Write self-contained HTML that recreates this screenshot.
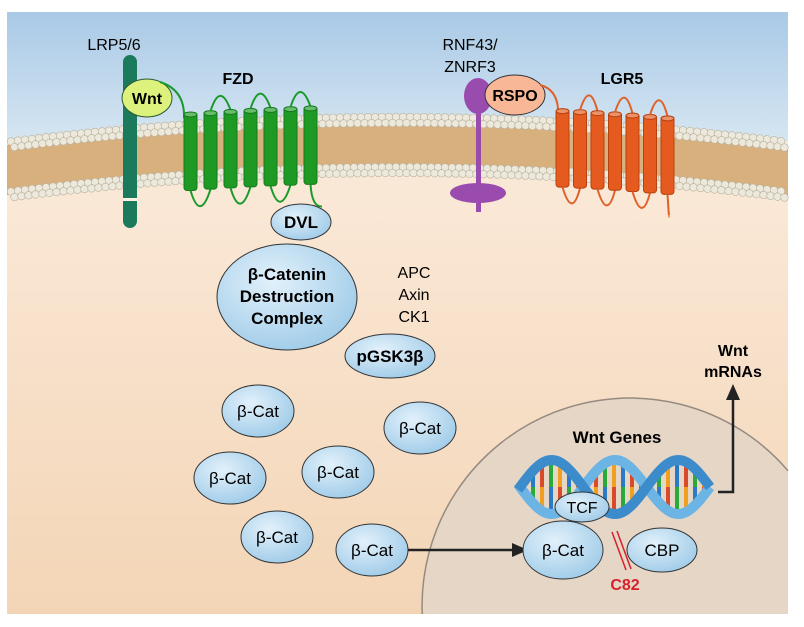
<!DOCTYPE html>
<html><head><meta charset="utf-8"><style>
html,body{margin:0;padding:0;background:#fff;width:804px;height:627px;overflow:hidden;}
svg{display:block;font-family:"Liberation Sans",sans-serif;position:absolute;left:0;top:0;}
</style></head><body>
<svg id="s" width="804" height="627" viewBox="0 0 804 627" xmlns="http://www.w3.org/2000/svg">
<defs>
<linearGradient id="sky" x1="0" y1="0" x2="0" y2="1"><stop offset="0" stop-color="#a9c9e6"/><stop offset="1" stop-color="#d6e6f2"/></linearGradient>
<linearGradient id="cyto" x1="0" y1="0" x2="0" y2="1"><stop offset="0" stop-color="#fdf0e4"/><stop offset="1" stop-color="#f3d5b6"/></linearGradient>
<radialGradient id="bl" cx="0.4" cy="0.35" r="0.7"><stop offset="0" stop-color="#e2f1fb"/><stop offset="1" stop-color="#9fcbe8"/></radialGradient>
</defs>
<rect x="7" y="12" width="781" height="602" fill="url(#cyto)"/>
<path d="M7,12 H788 V142 Q397,92 7,142 Z" fill="url(#sky)"/>
<path d="M7,145 Q397,95 788,145 L788,195 Q397,145 7,195 Z" fill="#d8b07e"/>
<g id="beads"></g>
<path d="M422.2,614 A208,208 0 0,1 788,470.7 L788,614 Z" fill="#e5d6c6"/>
<path d="M422.2,614 A208,208 0 0,1 788,470.7" fill="none" stroke="#968a80" stroke-width="1.5"/>
<rect x="123" y="55" width="14" height="173" rx="7" fill="#1b7a5c"/>
<rect x="123" y="198" width="14" height="3" fill="#fdf0e4"/>
<ellipse cx="147" cy="98" rx="25" ry="19" fill="#dcf27c" stroke="#2a5a30" stroke-width="1"/>
<text x="147" y="104" font-size="16" font-weight="bold" text-anchor="middle">Wnt</text>
<path d="M160,82 Q185,90 184,118" stroke="#1a9a2a" stroke-width="2" fill="none"/>
<g id="fzd" fill="#1e9a24" stroke="#147a1a" stroke-width="1"></g>
<rect x="476" y="100" width="5" height="112" fill="#9a4cae"/>
<ellipse cx="478" cy="96" rx="14" ry="18" fill="#9a4cae"/>
<ellipse cx="478" cy="193" rx="28" ry="10" fill="#9a4cae"/>
<ellipse cx="515" cy="95" rx="30" ry="20" fill="#f8b898" stroke="#333" stroke-width="1"/>
<text x="515" y="101" font-size="16" font-weight="bold" text-anchor="middle">RSPO</text>
<path d="M540,85 Q560,90 558,118" stroke="#e0602a" stroke-width="2" fill="none"/>
<g id="lgr" fill="#e55a1e" stroke="#b8420e" stroke-width="1"></g>
<g font-size="16" text-anchor="middle">
<text x="114" y="50">LRP5/6</text>
<text x="238" y="84" font-weight="bold">FZD</text>
<text x="470" y="50">RNF43/</text>
<text x="470" y="72">ZNRF3</text>
<text x="622" y="84" font-weight="bold">LGR5</text>
</g>
<g stroke="#333" stroke-width="1" fill="url(#bl)">
<ellipse cx="287" cy="297" rx="70" ry="53"/>
<ellipse cx="301" cy="222" rx="30" ry="18"/>
<ellipse cx="390" cy="356" rx="45" ry="22"/>
<ellipse cx="258" cy="411" rx="36" ry="26"/>
<ellipse cx="420" cy="428" rx="36" ry="26"/>
<ellipse cx="230" cy="478" rx="36" ry="26"/>
<ellipse cx="338" cy="472" rx="36" ry="26"/>
<ellipse cx="277" cy="537" rx="36" ry="26"/>
<ellipse cx="372" cy="550" rx="36" ry="26"/>
</g>
<g font-size="17" text-anchor="middle">
<text x="301" y="228" font-weight="bold">DVL</text>
<text x="287" y="280" font-weight="bold">β-Catenin</text>
<text x="287" y="302" font-weight="bold">Destruction</text>
<text x="287" y="324" font-weight="bold">Complex</text>
<text x="390" y="362" font-weight="bold">pGSK3β</text>
<text x="414" y="278" font-size="16">APC</text>
<text x="414" y="300" font-size="16">Axin</text>
<text x="414" y="322" font-size="16">CK1</text>
<text x="258" y="417">β-Cat</text>
<text x="420" y="434">β-Cat</text>
<text x="230" y="484">β-Cat</text>
<text x="338" y="478">β-Cat</text>
<text x="277" y="543">β-Cat</text>
<text x="372" y="556">β-Cat</text>
</g>
<line x1="408" y1="550" x2="516" y2="550" stroke="#222" stroke-width="2.5"/>
<polygon points="528,550 512,543 512,557" fill="#222"/>
<g id="dna"></g>
<path d="M718,492 H733 V395" stroke="#222" stroke-width="2.5" fill="none"/>
<polygon points="733,384 726,400 740,400" fill="#222"/>
<text x="733" y="356" font-size="16" font-weight="bold" text-anchor="middle">Wnt</text>
<text x="733" y="377" font-size="16" font-weight="bold" text-anchor="middle">mRNAs</text>
<text x="617" y="443" font-size="17" font-weight="bold" text-anchor="middle">Wnt Genes</text>
<g stroke="#333" stroke-width="1" fill="url(#bl)">
<ellipse cx="582" cy="507" rx="27" ry="15"/>
<ellipse cx="563" cy="550" rx="40" ry="29"/>
<ellipse cx="662" cy="550" rx="35" ry="22"/>
</g>
<text x="582" y="513" font-size="16" text-anchor="middle">TCF</text>
<text x="563" y="556" font-size="17" text-anchor="middle">β-Cat</text>
<text x="662" y="556" font-size="17" text-anchor="middle">CBP</text>
<line x1="612" y1="532" x2="626" y2="570" stroke="#d8202a" stroke-width="1.5"/>
<line x1="617" y1="531" x2="631" y2="569" stroke="#d8202a" stroke-width="1.5"/>
<text x="625" y="590" font-size="16" font-weight="bold" fill="#d8202a" text-anchor="middle">C82</text>
</svg>
<script>
var NS="http://www.w3.org/2000/svg";
function el(p,t,a){var e=document.createElementNS(NS,t);for(var k in a)e.setAttribute(k,a[k]);p.appendChild(e);return e;}
function topY(x){var t=(x-7)/781;return 142*(1-t)*(1-t)+2*t*(1-t)*92+142*t*t;}
var b=document.getElementById('beads');
var offs=[0,6,50,56];
for(var r=0;r<4;r++){for(var x=11+(r%2)*3.5;x<785;x+=7){el(b,'circle',{cx:x,cy:topY(x)+offs[r],r:3.8,fill:'#ece8dc',stroke:'#b9b19c','stroke-width':0.6});}}
function tm(g,x0,n,sp,col,tail){
 for(var i=0;i<n;i++){var x=x0+i*sp,yt=topY(x)-12,yb=topY(x)+66;
  el(g,'rect',{x:x,y:yt,width:13,height:yb-yt,rx:3});
  el(g,'ellipse',{cx:x+6.5,cy:yt+2,rx:6.5,ry:2.5,fill:'#ffffff55'});
  if(i<n-1){var x2=x+sp;
   if(i%2==1) el(g,'path',{d:'M'+(x+6.5)+','+yt+' Q'+(x+16)+','+(yt-30)+' '+(x2+6.5)+','+(topY(x2)-12),fill:'none',stroke:col,'stroke-width':2});
   else el(g,'path',{d:'M'+(x+6.5)+','+yb+' Q'+(x+16)+','+(yb+32)+' '+(x2+6.5)+','+(topY(x2)+66),fill:'none',stroke:col,'stroke-width':2});}
 }
 var xl=x0+(n-1)*sp; el(g,'path',{d:'M'+(xl+6.5)+','+(topY(xl)+66)+' Q'+(xl+8)+','+(topY(xl)+89)+' '+(xl+tail)+','+(topY(xl)+88),fill:'none',stroke:col,'stroke-width':2});
}
tm(document.getElementById('fzd'),184,7,20,'#1a9a2a',18);
tm(document.getElementById('lgr'),556,7,17.5,'#e0602a',8);
var d=document.getElementById('dna');
var cols=['#d84a2a','#2aaa3a','#f0a020','#2a7ac8'];
function hy(x,ph){return 487+27*Math.sin((x-520)/190*2*Math.PI*1.5+ph);}
for(var x=524,i=0;x<708;x+=9,i++){var y1=hy(x,0),y2=hy(x,Math.PI);var m=(y1+y2)/2;
 el(d,'line',{x1:x,y1:y1,x2:x,y2:m,stroke:cols[i%4],'stroke-width':4});
 el(d,'line',{x1:x,y1:m,x2:x,y2:y2,stroke:cols[(i+2)%4],'stroke-width':4});}
for(var k=0;k<2;k++){var p='';for(var x=518;x<=710;x+=2){p+=(x==518?'M':'L')+x+','+hy(x,k*Math.PI).toFixed(1);}
 el(d,'path',{d:p,fill:'none',stroke:k?'#3c8ccc':'#6cb4e4','stroke-width':10,'stroke-linecap':'butt'});}
</script>
</body></html>
